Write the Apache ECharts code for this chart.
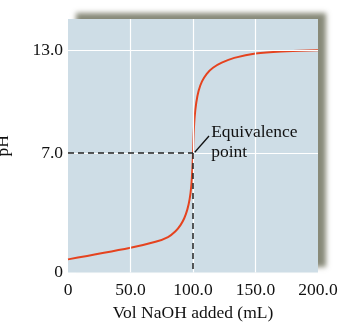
<!DOCTYPE html>
<html>
<head>
<meta charset="utf-8">
<script src="https://cdn.jsdelivr.net/npm/echarts@6/dist/echarts.min.js"></script>
<style>
  html, body { margin: 0; padding: 0; background: #fff; }
  #chart { width: 339px; height: 322px; }
</style>
</head>
<body>
<div id="chart"></div>
<script>
// titration curve: volume NaOH (mL) vs pH
const volume = [0, 50, 70, 80, 86, 90, 93, 95.5, 97.3, 98.6, 99.5, 100, 100.5, 101.3, 102.6, 104.5, 107.2, 111, 116, 123, 133, 150, 175, 200];
const ph = [0.77, 1.45, 1.8, 2.08, 2.42, 2.78, 3.18, 3.7, 4.3, 5.05, 6.1, 7.0, 8.1, 9.1, 9.95, 10.65, 11.2, 11.65, 12.0, 12.3, 12.58, 12.84, 12.97, 13.03];

const xTicks = [0, 50, 100, 150, 200];
const yTicks = [0, 7, 13];
const xGrid = [50, 100, 150];
const yGrid = [7, 13];

const equivalence = [100, 7];
const arrowFrom = [112.8, 8.0];
const arrowTo = [101.4, 7.05];
const noteAt = [114.5, 7.62];

const fmt = v => (v === 0 ? '0' : v.toFixed(1));
const serif = '"Liberation Serif", "DejaVu Serif", serif';

const chart = echarts.init(document.getElementById('chart'));

chart.setOption({
  animation: false,
  grid: {
    left: 68, right: 21, top: 19, bottom: 49.5,
    outerBoundsMode: 'none',
    containLabel: false,
    show: true,
    backgroundColor: '#cedde6',
    borderWidth: 0,
    shadowColor: 'rgba(115, 118, 98, 0.85)',
    shadowBlur: 5,
    shadowOffsetX: 8,
    shadowOffsetY: -6
  },
  xAxis: {
    type: 'value',
    min: 0,
    max: 200,
    name: 'Vol NaOH added (mL)',
    nameLocation: 'middle',
    nameGap: 32,
    nameTextStyle: { fontFamily: serif, fontSize: 17.5, color: '#111' },
    axisLine: { show: false },
    axisTick: { show: false },
    splitLine: { show: false },
    axisLabel: {
      customValues: xTicks,
      formatter: fmt,
      margin: 9,
      fontFamily: serif, fontSize: 17.5, color: '#111'
    }
  },
  yAxis: {
    type: 'value',
    min: 0,
    max: 14.86,
    name: 'pH',
    nameLocation: 'middle',
    nameRotate: 90,
    nameGap: 56,
    nameTextStyle: { fontFamily: serif, fontSize: 17.5, color: '#111' },
    axisLine: { show: false },
    axisTick: { show: false },
    splitLine: { show: false },
    axisLabel: {
      customValues: yTicks,
      formatter: fmt,
      margin: 5,
      fontFamily: serif, fontSize: 17.5, color: '#111'
    }
  },
  series: [
    {
      // white grid lines
      type: 'line',
      data: [],
      silent: true,
      markLine: {
        silent: true,
        symbol: 'none',
        label: { show: false },
        lineStyle: { color: '#ffffff', width: 1.2, type: 'solid' },
        data: xGrid.map(v => ({ xAxis: v })).concat(yGrid.map(v => ({ yAxis: v })))
      }
    },
    {
      // dashed guides to the equivalence point
      type: 'line',
      data: [],
      silent: true,
      markLine: {
        silent: true,
        symbol: 'none',
        label: { show: false },
        lineStyle: { color: '#222', width: 1.5, type: [6, 4] },
        data: [
          [{ coord: [0, equivalence[1]] }, { coord: equivalence }],
          [{ coord: equivalence }, { coord: [equivalence[0], 0] }]
        ]
      }
    },
    {
      name: 'pH',
      type: 'line',
      data: volume.map((v, i) => [v, ph[i]]),
      smooth: 0.35,
      showSymbol: false,
      lineStyle: { color: '#e5431f', width: 2 },
      z: 3
    },
    {
      // annotation arrow + text
      type: 'line',
      data: [],
      silent: true,
      z: 4,
      markLine: {
        silent: true,
        symbol: ['none', 'arrow'],
        symbolSize: [0, 9],
        label: { show: false },
        lineStyle: { color: '#111', width: 1.3, type: 'solid' },
        data: [[{ coord: arrowFrom }, { coord: arrowTo }]]
      },
      markPoint: {
        silent: true,
        symbol: 'circle',
        symbolSize: 0,
        data: [{ coord: noteAt }],
        label: {
          show: true,
          position: 'right',
          distance: 0,
          formatter: 'Equivalence\npoint',
          fontFamily: serif,
          fontSize: 17.5,
          lineHeight: 20,
          color: '#111',
          align: 'left'
        }
      }
    }
  ]
});
</script>
</body>
</html>
